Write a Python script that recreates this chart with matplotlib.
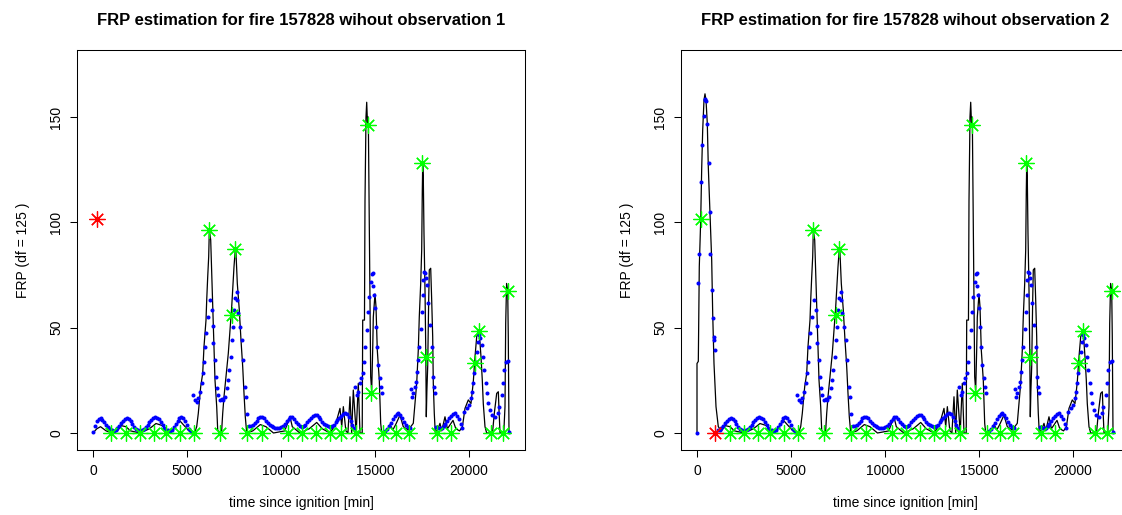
import matplotlib
matplotlib.use("Agg")
import matplotlib.pyplot as plt

plt.rcParams["font.family"] = ["Liberation Sans", "DejaVu Sans"]

# ---- observations (green asterisks); first two are the held-out ones ----
obs_t = [200, 970, 1755, 2500, 3229, 3900, 4646, 5367, 6188, 6755, 7394, 7569,
         8207, 8973, 10356, 11133, 11862, 12606, 13191, 13989, 14644, 14803,
         15408, 16117, 16790, 17500, 17713, 18282, 19026, 20335, 20516, 21154,
         21808, 22059]
obs_v = [101.6, 0, 0, 0, 0, 0, 0, 0, 96.5, 0, 56.2, 87.2,
         0, 0, 0, 0, 0, 0, 0, 0, 146.2, 19.1,
         0, 0, 0, 128.3, 36.3, 0, 0, 33.0, 48.5, 0,
         0, 67.2]

# ---- black reference line ----
black_head1_t = [0, 200, 400, 700, 1000]
black_head1_v = [0, 2, 3, 1, 0]
black_head2_t = [0, 0, 70, 122, 197, 250, 303, 372, 425, 479, 548, 601, 691,
                 782, 835, 904, 1011, 1133]
black_head2_v = [0, 33, 34, 79, 101, 125.6, 143.8, 158, 161, 158, 147, 126.4,
                 104, 82, 56.8, 33, 12.5, 3]
black_t = [1300, 1500, 1750, 2000, 2500, 3000, 3350, 3700, 4000, 4300, 4600,
           4800, 5100, 5400, 5516, 5601, 5729, 5835, 5904, 6011, 6048, 6101,
           6154, 6188, 6261, 6314, 6367, 6436, 6489, 6580, 6633, 6755, 6846,
           6899, 6968, 7074, 7197, 7287, 7378, 7431, 7500, 7569, 7606, 7676,
           7782, 7872, 7963, 8032, 8101, 8176, 8500, 8900, 9200, 9600, 10200,
           10479, 10600, 11000, 11500, 11900, 12200, 12600, 12900, 13138,
           13230, 13316, 13450, 13560, 13670, 13760, 13846, 14000, 14112,
           14202, 14320, 14346, 14440, 14468, 14521, 14559, 14600, 14644,
           14700, 14734, 14771, 14824, 14877, 14910, 15000, 15053, 15122,
           15229, 15303, 15356, 15500, 15700, 15800, 15950, 16100, 16330,
           16505, 16771, 17037, 17128, 17218, 17303, 17356, 17431, 17484,
           17516, 17537, 17569, 17606, 17660, 17700, 17729, 17760, 17803,
           17856, 17888, 17963, 18016, 18069, 18101, 18154, 18207, 18350,
           18457, 18550, 18723, 18850, 19000, 19150, 19300, 19500, 19650,
           19787, 19963, 20106, 20229, 20319, 20410, 20495, 20560, 20638,
           20707, 20760, 20851, 20940, 21250, 21346, 21473, 21560, 21596,
           21650, 21850, 21915, 21952, 22000, 22059, 22090, 22128]
black_v = [1, 3.5, 3, 1, 0, 2, 4.5, 3.5, 0.5, 2, 6,
           4, 1, 0, 3, 9.3, 22, 28.3, 41, 53.6, 63, 74,
           83.7, 96.3, 91.6, 75.8, 58.4, 41, 25.2, 12.5, 1.4, 0, 1.4,
           9.3, 17.2, 26.7, 37.8, 48.9, 59.9, 67.9, 78.9, 87.2, 85.5, 71,
           58.4, 44.1, 31.5, 18.8, 7.7, 0, 1, 4, 3, 0, 1,
           7.7, 3, 0, 2, 5, 2, 0, 4, 11.7,
           3, 12.5, 1, 0, 17.2, 0, 20.4, 0, 23.6,
           0, 0, 53.6, 53.6, 110, 150, 157, 147, 150,
           98, 61.5, 26.7, 20, 39.4, 55, 66, 60, 39.4,
           25, 4.6, 0, 0, 2, 4, 1.5, 4, 8.5,
           3, 1.4, 4.6, 14, 23.6, 39.4, 55.2, 71, 86.9,
           115, 127, 121.6, 94.8, 67.9, 39.4, 7.7, 20, 31.5,
           63, 77.4, 78.2, 63, 45.7, 23.6, 9.3, 0, 2,
           4.6, 1, 7.7, 2, 4, 6, 2, 1, 3,
           11.7, 15.7, 14, 24.3, 36.2, 45.7, 48, 46, 36.2,
           25.2, 14, 3, 0, 0, 9.3, 18.8, 19.6, 11,
           0, 0, 12.5, 52, 71, 68, 45.7, 0]

# ---- blue estimates ----
blue_head2_t = [0, 53, 122, 229, 266, 351, 400, 442, 475, 532, 617, 670, 707,
                798, 851, 883, 920, 973, 1133]
blue_head2_v = [0, 71, 85, 119, 136.7, 150.4, 158.5, 158, 157.5, 146.6, 128,
                105, 85, 67.9, 54.7, 45.7, 44, 39.4, 1.4]
blue_t = [0, 100, 200, 300, 400, 500, 600, 700, 800, 900, 1000, 1100,
          1200, 1300, 1400, 1500, 1600, 1700, 1800, 1900, 2000, 2100, 2200,
          2300, 2400, 2500, 2600, 2700, 2800, 2900, 3000, 3100, 3200, 3300,
          3400, 3500, 3600, 3700, 3800, 3900, 4000, 4100, 4200, 4300, 4400,
          4500, 4600, 4700, 4800, 4900, 5000, 5100, 5200,
          5337, 5426, 5514, 5603, 5691, 5780, 5833, 5904, 5957, 6011, 6135,
          6223, 6312, 6365, 6400, 6489, 6543, 6578, 6667, 6755, 6845, 6931,
          7021, 7110, 7197, 7250, 7324, 7378, 7463, 7500, 7553, 7643, 7675,
          7729, 7819, 7909, 7995, 8085, 8138,
          8200, 8300, 8400, 8500, 8600, 8700, 8800, 8900, 9000, 9100, 9200,
          9300, 9400, 9500, 9600, 9700, 9800, 9900, 10000, 10100, 10200,
          10300, 10400, 10500, 10600, 10700, 10800, 10900, 11000, 11100,
          11200, 11300, 11400, 11500, 11600, 11700, 11800, 11900, 12000,
          12100, 12200, 12300, 12400, 12500, 12600, 12700, 12800, 12900,
          13000, 13100, 13200, 13300, 13400, 13500, 13600, 13700, 13800,
          13900,
          13960, 14027, 14112, 14202, 14280, 14346, 14415, 14468, 14559,
          14644, 14697, 14771, 14824, 14870, 14910, 14963, 15000, 15053,
          15090, 15176, 15266, 15303, 15356,
          15450, 15550, 15650, 15750, 15850, 15950, 16050, 16150, 16250,
          16350, 16450, 16550, 16650, 16750, 16850,
          16920, 16990, 17037, 17128, 17181, 17250, 17303, 17356, 17431,
          17484, 17537, 17569, 17622, 17660, 17713, 17782, 17835, 17926,
          18016, 18069, 18138, 18191,
          18250, 18350, 18450, 18550, 18650, 18750, 18850, 18950, 19050,
          19150, 19250, 19350, 19450, 19550, 19650,
          19750, 19878, 20000, 20106, 20176, 20229, 20282, 20356, 20410,
          20463, 20532, 20585, 20676, 20729, 20814, 20888, 20941, 21027,
          21117, 21239, 21383, 21527, 21612, 21739, 21824, 21878, 21952,
          22059, 22130]
blue_v = [0.5, 3.5, 5.8, 6.8, 7.0, 6.4, 5.2, 3.8, 2.7, 1.8, 1.3, 1.1,
          1.4, 2.2, 3.3, 4.7, 5.9, 6.7, 7.0, 6.6, 5.6, 4.3, 3.0,
          2.0, 1.4, 1.1, 1.3, 1.8, 2.7, 3.9, 5.1, 6.3, 7.2, 7.7,
          7.3, 6.5, 5.3, 3.9, 2.5, 1.6, 1.2, 1.1, 1.6, 2.8, 4.3,
          5.9, 7.2, 7.8, 7.1, 5.5, 3.6, 2.0, 0.7,
          18.0, 15.7, 14.9, 16.5, 19.6, 23.6, 28.3, 33.8, 41.0, 47.3, 55.2,
          63.1, 58.4, 50.8, 42.6, 34.6, 26.7, 21.2, 18.0, 15.7, 16.0, 15.7,
          17.2, 21.2, 25.2, 29.9, 36.2, 44.1, 50.4, 58.4, 63.9, 67.1, 63.1,
          56.8, 50.4, 44.1, 34.6, 22.0, 17.2,
          9.0, 3.4, 3.2, 3.8, 4.8, 5.9, 6.9, 7.6, 7.7, 7.0, 5.9,
          4.8, 3.9, 3.2, 2.7, 2.4, 2.2, 2.3, 2.7, 3.4, 4.4,
          5.6, 6.8, 7.6, 7.6, 6.5, 5.2, 4.1, 3.3, 3.0,
          3.3, 4.0, 5.0, 6.2, 7.2, 8.0, 8.5, 8.5, 7.8,
          6.5, 5.3, 4.3, 3.6, 3.1, 3.0, 3.3, 4.0, 5.0,
          6.2, 7.3, 8.3, 9.0, 9.4, 9.0, 7.5, 5.5, 3.6,
          2.4,
          22, 18, 19.6, 23.6, 26, 28.3, 33.8, 40.7, 48.9,
          57.6, 64.7, 71.8, 75.5, 75.8, 70, 65.5, 59.2, 50.2,
          41, 32.3, 26, 22, 18.8,
          0.6, 0.8, 1.8, 3.2, 4.8, 6.5, 8.0, 9.0, 9.4,
          8.6, 7.0, 5.2, 3.8, 2.8, 2.2,
          20.7, 17.2, 18.8, 21.7, 24.3, 29.1, 34.6, 41, 49.4,
          57.6, 65.5, 72.6, 76.6, 76.1, 73.4, 70.2, 61.8, 51.3,
          41, 26.4, 22, 19.1,
          3.0, 2.6, 2.4, 2.5, 3.2, 4.3, 5.6, 7.0, 8.2,
          9.0, 9.3, 8.0, 6.5, 4.2, 2.4,
          10, 11.7, 13.3, 16.5, 19.6, 23.6, 28.3, 33.8, 38.6,
          43.3, 46.5, 44.9, 41.8, 36.2, 29.9, 23.6, 18.8, 14.1,
          10.9, 8.5, 7.7, 9.3, 12.5, 18, 23.6, 29.9, 33.8,
          34.3, 0.5]

fire_id = 157828
W, H = 1122, 515

fig = plt.figure(figsize=(W / 100, H / 100), dpi=100)
fig.patch.set_facecolor("white")


def panel(left_px, held_out):
    ax = fig.add_axes([left_px / W, (H - 450) / H, 448 / W, 400 / H])
    if held_out == 0:
        bt = black_head1_t + black_t
        bv = black_head1_v + black_v
        ut, uv = blue_t, blue_v
    else:
        bt = black_head2_t + black_t
        bv = black_head2_v + black_v
        keep = [i for i, t in enumerate(blue_t) if t >= 1200]
        ut = blue_head2_t + [blue_t[i] for i in keep]
        uv = blue_head2_v + [blue_v[i] for i in keep]

    ax.plot(bt, bv, color="black", lw=0.9, zorder=2)
    ax.plot(ut, uv, ls="none", marker="o", ms=2.9, mew=0, color="#0000ff", zorder=3)
    gt = [t for i, t in enumerate(obs_t) if i != held_out]
    gv = [v for i, v in enumerate(obs_v) if i != held_out]
    ax.plot(gt, gv, ls="none", marker=(8, 2, 0), ms=11.5, mew=0.9,
            color="#00ff00", zorder=4)
    ax.plot([obs_t[held_out]], [obs_v[held_out]], ls="none", marker=(8, 2, 0),
            ms=11.5, mew=0.9, color="#ff0000", zorder=5)

    ax.set_xlim(-851, 22979)
    ax.set_ylim(-8.07, 181.8)
    ax.set_xticks([0, 5000, 10000, 15000, 20000])
    ax.set_yticks([0, 50, 100, 150])
    ax.set_yticklabels(["0", "50", "100", "150"], rotation=90, va="center")
    ax.tick_params(direction="out", length=5, width=0.75, labelsize=10,
                   color="black")
    ax.tick_params(axis="x", pad=5)
    ax.tick_params(axis="y", pad=5)
    for s in ax.spines.values():
        s.set_linewidth(0.75)
    ax.set_xlabel("time since ignition [min]", fontsize=10, labelpad=13)
    ax.set_ylabel("FRP (df = 125 )", fontsize=10, labelpad=14)
    ax.set_title(f"FRP estimation for fire {fire_id} wihout observation {held_out + 1}",
                 fontsize=12, fontweight="bold", pad=18)
    return ax


panel(77, 0)
panel(681, 1)

fig.savefig("out.png", dpi=100)
